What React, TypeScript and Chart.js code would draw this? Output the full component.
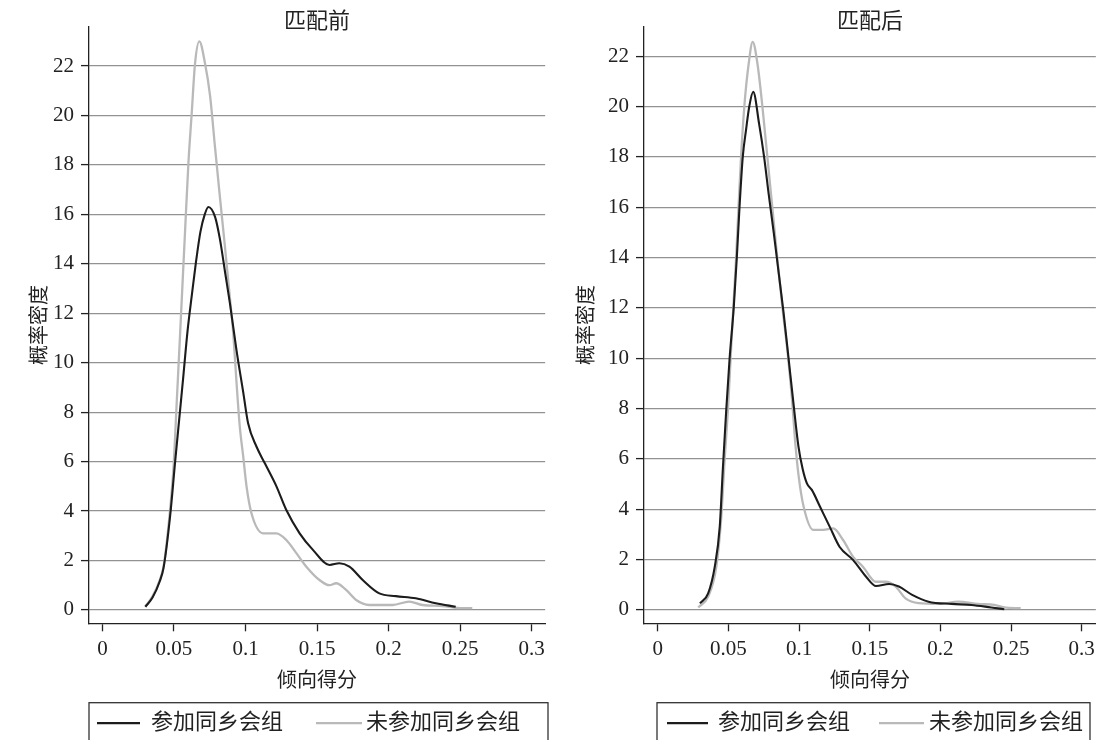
import React, { useEffect, useRef } from 'react';
import { Chart, registerables } from 'chart.js';

Chart.register(...registerables);

// ---------- data ----------
const xTicks = [0, 0.05, 0.1, 0.15, 0.2, 0.25, 0.3];
const xTickLabels = ['0', '0.05', '0.1', '0.15', '0.2', '0.25', '0.3'];
const yTicks = [0, 2, 4, 6, 8, 10, 12, 14, 16, 18, 20, 22];
const seriesNames = ['参加同乡会组', '未参加同乡会组'];
const panelTitles = ['匹配前', '匹配后'];
const xTitle = '倾向得分';
const yTitle = '概率密度';

// 匹配前 — 参加同乡会组
const preTreatedX = [0.030, 0.035, 0.040, 0.0427, 0.0473, 0.0508, 0.0543, 0.0566, 0.0595, 0.0624, 0.0652, 0.0685, 0.0715, 0.074, 0.0787, 0.0821, 0.0856, 0.0891, 0.0937, 0.0984, 0.1018, 0.1077, 0.1135, 0.1216, 0.1285, 0.1378, 0.1471, 0.1587, 0.1656, 0.1726, 0.1819, 0.1935, 0.2051, 0.219, 0.233, 0.2469];
const preTreatedY = [0.13, 0.5, 1.15, 1.7, 3.8, 6.0, 8.1, 9.5, 11.3, 12.7, 14.0, 15.3, 16.0, 16.3, 15.9, 15.0, 13.7, 12.4, 10.5, 8.8, 7.55, 6.6, 5.93, 5.0, 4.04, 3.1, 2.43, 1.82, 1.89, 1.75, 1.21, 0.67, 0.56, 0.47, 0.27, 0.13];
// 匹配前 — 未参加同乡会组
const preControlX = [0.0299, 0.035, 0.040, 0.0427, 0.0465, 0.0497, 0.052, 0.0543, 0.0578, 0.0601, 0.0624, 0.0647, 0.0677, 0.0717, 0.0752, 0.0787, 0.0821, 0.0856, 0.0891, 0.0914, 0.0937, 0.096, 0.0984, 0.1007, 0.1042, 0.1123, 0.1216, 0.1285, 0.1355, 0.1425, 0.1517, 0.1587, 0.1633, 0.1703, 0.1773, 0.1865, 0.2028, 0.2144, 0.2237, 0.2376, 0.2515, 0.2585];
const preControlY = [0.13, 0.55, 1.2, 1.75, 3.6, 5.8, 8.5, 11.2, 15.4, 18.1, 20.1, 22.1, 23.0, 22.1, 20.8, 18.7, 16.7, 14.7, 12.6, 11.2, 9.2, 7.4, 6.2, 5.0, 3.9, 3.1, 3.1, 2.83, 2.3, 1.75, 1.21, 1.0, 1.08, 0.81, 0.4, 0.2, 0.2, 0.34, 0.2, 0.16, 0.07, 0.07];
// 匹配后 — 参加同乡会组
const postTreatedX = [0.0298, 0.0356, 0.0403, 0.0438, 0.0461, 0.0484, 0.0508, 0.0537, 0.0559, 0.0578, 0.0601, 0.0624, 0.0647, 0.0675, 0.0717, 0.0752, 0.0785, 0.082, 0.0855, 0.089, 0.0925, 0.096, 0.0995, 0.1025, 0.1055, 0.109, 0.1148, 0.1217, 0.1287, 0.1381, 0.1474, 0.1544, 0.1637, 0.1706, 0.18, 0.1916, 0.2079, 0.2219, 0.2359, 0.2452];
const postTreatedY = [0.26, 0.66, 1.72, 3.3, 5.7, 7.94, 10.0, 12.0, 14.0, 16.0, 18.0, 19.06, 20.0, 20.58, 19.3, 18.0, 16.5, 15.0, 13.4, 11.8, 10.0, 8.2, 6.5, 5.6, 5.03, 4.77, 4.1, 3.3, 2.5, 1.99, 1.32, 0.95, 1.03, 0.93, 0.6, 0.33, 0.24, 0.2, 0.1, 0.03];
// 匹配后 — 未参加同乡会组
const postControlX = [0.0286, 0.0356, 0.0414, 0.0449, 0.0473, 0.0496, 0.0515, 0.0534, 0.0554, 0.0571, 0.0589, 0.0612, 0.0643, 0.0671, 0.0705, 0.074, 0.0775, 0.081, 0.0845, 0.0882, 0.0915, 0.095, 0.0973, 0.0997, 0.1032, 0.1101, 0.1171, 0.1241, 0.1311, 0.1381, 0.1451, 0.1544, 0.1613, 0.1683, 0.1753, 0.1846, 0.1986, 0.2126, 0.2265, 0.2382, 0.2452, 0.2568];
const postControlY = [0.1, 0.53, 1.72, 3.7, 6.0, 7.94, 10.0, 12.0, 14.0, 16.0, 18.0, 20.0, 21.7, 22.57, 21.7, 20.0, 18.0, 16.0, 14.0, 12.0, 10.4, 8.34, 6.62, 5.3, 4.1, 3.18, 3.18, 3.24, 2.78, 2.12, 1.72, 1.12, 1.12, 0.93, 0.46, 0.27, 0.24, 0.33, 0.24, 0.2, 0.1, 0.07];

// ---------- style ----------
const FONT = "'Liberation Serif', 'Noto Sans CJK SC', serif";
const TEXT = '#222';
const BLACK = '#1c1c1c';
const GRAY = '#b9b9b9';

const toPoints = (xs: number[], ys: number[]) => xs.map((x, i) => ({ x, y: ys[i] }));

interface LegendLayout { inset: number; width: number; l1: [number, number]; t1: number; l2: [number, number]; t2: number; }

interface Panel {
  title: string;
  treated: { x: number; y: number }[];
  control: { x: number; y: number }[];
  xMin: number; xMax: number; yMin: number; yMax: number;
  axisLeft: number; yTitlePad: number; legend: LegendLayout;
}

const legendPlugin = {
  id: 'boxLegend',
  afterDraw(chart: any, _args: any, opts: any) {
    const { ctx, chartArea } = chart;
    const xs = chart.scales.x;
    const bx = chartArea.left + opts.inset;
    const by = xs.bottom;
    ctx.save();
    ctx.strokeStyle = '#333';
    ctx.lineWidth = 1.3;
    ctx.strokeRect(bx, by, opts.width, 80);
    const cy = by + 20.5;
    ctx.lineWidth = 2.2;
    ctx.strokeStyle = BLACK;
    ctx.beginPath(); ctx.moveTo(bx + opts.l1[0], cy); ctx.lineTo(bx + opts.l1[1], cy); ctx.stroke();
    ctx.strokeStyle = GRAY;
    ctx.beginPath(); ctx.moveTo(bx + opts.l2[0], cy); ctx.lineTo(bx + opts.l2[1], cy); ctx.stroke();
    ctx.fillStyle = TEXT;
    ctx.font = `22px ${FONT}`;
    ctx.textBaseline = 'middle';
    ctx.textAlign = 'left';
    ctx.fillText(seriesNames[0], bx + opts.t1, cy);
    ctx.fillText(seriesNames[1], bx + opts.t2, cy);
    ctx.restore();
  },
};

function makeConfig(p: Panel): any {
  return {
    type: 'line',
    data: {
      datasets: [
        { label: seriesNames[0], data: p.treated, borderColor: BLACK, borderWidth: 2.1, pointRadius: 0, cubicInterpolationMode: 'monotone', fill: false },
        { label: seriesNames[1], data: p.control, borderColor: GRAY, borderWidth: 2.3, pointRadius: 0, cubicInterpolationMode: 'monotone', fill: false },
      ],
    },
    options: {
      responsive: false,
      animation: false,
      devicePixelRatio: 1,
      layout: { padding: { left: 0, right: 0, top: 0, bottom: 37.3 } },
      plugins: {
        legend: { display: false },
        tooltip: { enabled: false },
        title: {
          display: true,
          fullSize: false,
          text: p.title,
          color: TEXT,
          font: { family: FONT, size: 22, weight: 'normal', lineHeight: 0.4 },
          padding: { top: 17.6, bottom: 0.3 },
        },
        boxLegend: p.legend,
      },
      scales: {
        x: {
          type: 'linear',
          min: p.xMin,
          max: p.xMax,
          afterBuildTicks: (s: any) => { s.ticks = xTicks.map((v) => ({ value: v })); },
          afterFit: (s: any) => { s.height = 79.4; },
          ticks: {
            callback: (v: number) => xTickLabels[xTicks.indexOf(v)] ?? '',
            color: TEXT,
            font: { family: FONT, size: 21 },
            padding: 6,
            maxRotation: 0,
            autoSkip: false,
          },
          grid: { display: true, drawOnChartArea: false, drawTicks: true, tickLength: 8, tickColor: '#222', tickWidth: 1.3 },
          border: { display: true, color: '#222', width: 1.3 },
          title: {
            display: true,
            text: xTitle,
            color: TEXT,
            font: { family: FONT, size: 20, lineHeight: 1.2 },
            padding: { top: 0, bottom: 9 },
          },
        },
        y: {
          type: 'linear',
          min: p.yMin,
          max: p.yMax,
          afterBuildTicks: (s: any) => { s.ticks = yTicks.map((v) => ({ value: v })); },
          afterFit: (s: any) => { s.width = p.axisLeft; },
          ticks: {
            callback: (v: number) => String(v),
            color: TEXT,
            font: { family: FONT, size: 21 },
            padding: 7,
            autoSkip: false,
          },
          grid: { color: '#929292', lineWidth: 1.2, drawTicks: true, tickLength: 8, tickColor: '#222', tickWidth: 1.3 },
          border: { display: true, color: '#222', width: 1.3 },
          title: {
            display: true,
            text: yTitle,
            color: TEXT,
            font: { family: FONT, size: 20, lineHeight: 1.2 },
            padding: { top: p.yTitlePad, bottom: 0 },
          },
        },
      },
    },
    plugins: [legendPlugin],
  };
}

const panels: Panel[] = [
  {
    title: panelTitles[0],
    treated: toPoints(preTreatedX, preTreatedY),
    control: toPoints(preControlX, preControlY),
    xMin: -0.0094, xMax: 0.3094, yMin: -0.54, yMax: 23.59,
    axisLeft: 89, yTitlePad: 29,
    legend: { inset: 0, width: 459, l1: [8, 51], t1: 62, l2: [227, 273], t2: 277 },
  },
  {
    title: panelTitles[1],
    treated: toPoints(postTreatedX, postTreatedY),
    control: toPoints(postControlX, postControlY),
    xMin: -0.0098, xMax: 0.3100, yMin: -0.53, yMax: 23.17,
    axisLeft: 93, yTitlePad: 25,
    legend: { inset: 13, width: 433, l1: [10, 51], t1: 61, l2: [222, 267], t2: 272 },
  },
];

function DensityPanel({ panel, width }: { panel: Panel; width: number }) {
  const ref = useRef<HTMLCanvasElement | null>(null);
  useEffect(() => {
    if (!ref.current) return;
    const chart = new Chart(ref.current, makeConfig(panel));
    return () => chart.destroy();
  }, [panel]);
  return <canvas ref={ref} width={width} height={740} style={{ display: 'block', width, height: 740 }} />;
}

export default function App() {
  return (
    <div style={{ position: 'fixed', left: 0, top: 0, width: 1101, height: 740, background: '#fff', display: 'flex' }}>
      <DensityPanel panel={panels[0]} width={551} />
      <DensityPanel panel={panels[1]} width={550} />
    </div>
  );
}
